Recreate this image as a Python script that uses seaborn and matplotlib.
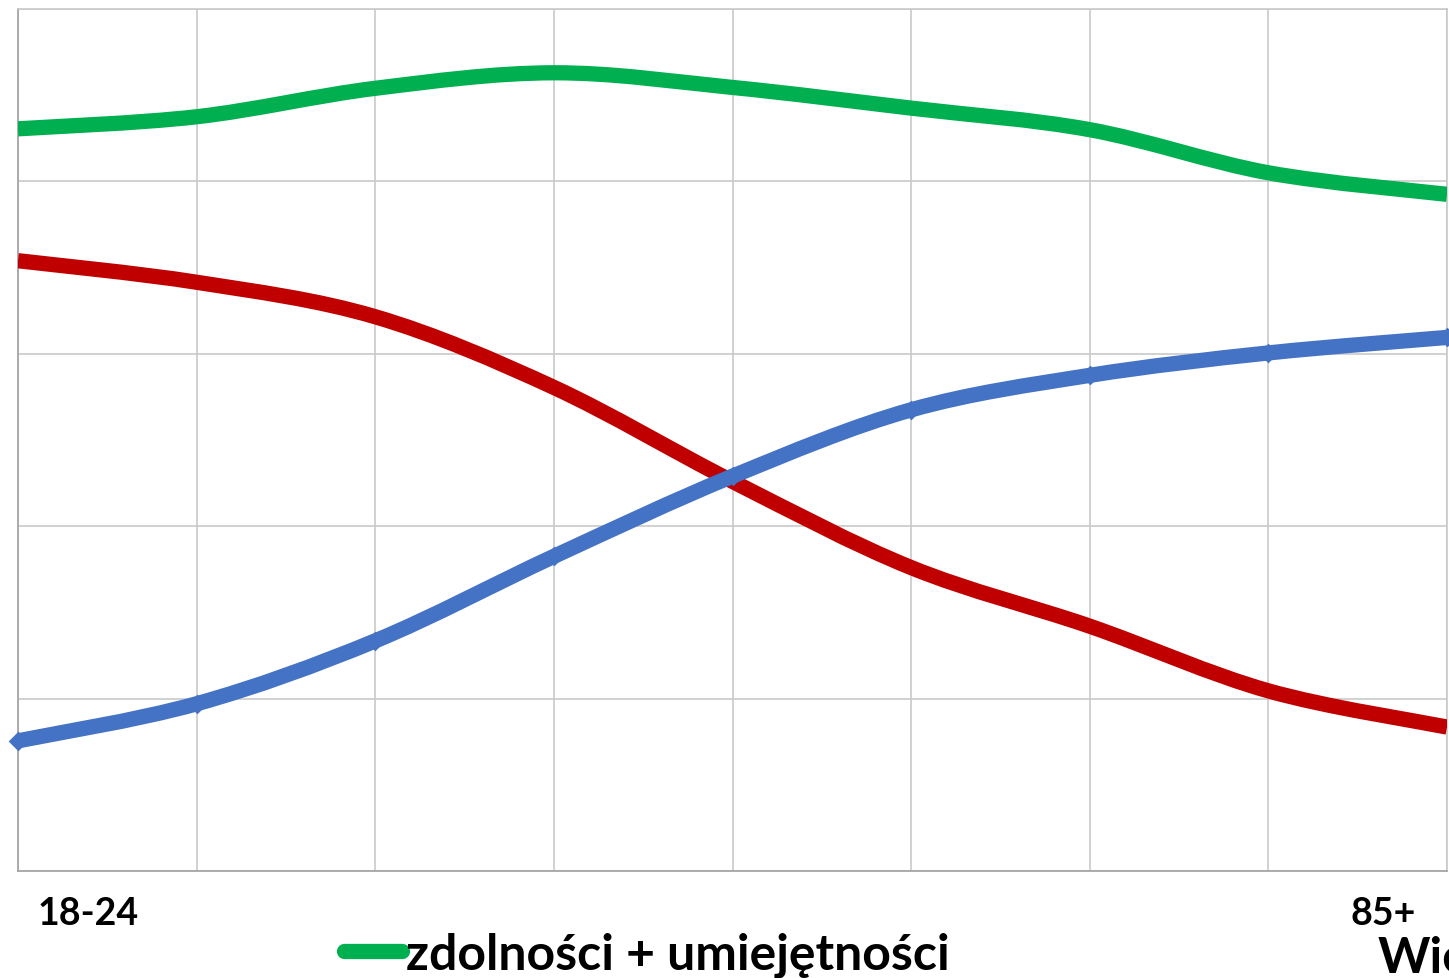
import numpy as np
import pandas as pd
import matplotlib
matplotlib.use("Agg")
import matplotlib.pyplot as plt
import matplotlib.transforms as mtransforms
from matplotlib.lines import Line2D
from matplotlib.patches import PathPatch
from matplotlib.path import Path
import seaborn as sns

# Age groups along the x axis; only the first and the last are labelled
age_pos = [0, 1, 2, 3, 4, 5, 6, 7, 8]
age_labels = ["18-24", "", "", "", "", "", "", "", "85+"]

# Series values (percent)
zdolnosci_umiejetnosci = [86.1, 87.5, 90.8, 92.6, 90.9, 88.5, 86.0, 81.0, 78.5]
zdolnosci = [70.8, 68.3, 64.3, 56.1, 45.2, 35.2, 28.4, 20.9, 16.7]
umiejetnosci = [15.1, 19.4, 26.7, 36.5, 45.8, 53.5, 57.5, 60.1, 61.9]

series_names = ["zdolności + umiejętności", "zdolności", "umiejętności"]
series_colors = ["#00B050", "#C00000", "#4472C4"]

df = pd.DataFrame({
    "wiek": age_pos * 3,
    "wartosc": zdolnosci_umiejetnosci + zdolnosci + umiejetnosci,
    "seria": [n for n in series_names for _ in age_pos],
})

sns.set_style("white")
plt.rcParams["font.family"] = ["Lato", "DejaVu Sans"]
plt.rcParams["text.color"] = "black"
plt.rcParams["xtick.color"] = "black"
plt.rcParams["axes.labelcolor"] = "black"

W, H = 1449, 979
fig = plt.figure(figsize=(W / 100, H / 100), dpi=100)
ax = fig.add_axes([18 / W, (H - 872) / H, (1447 - 18) / W, (872 - 10) / H])

LW = 11
sns.lineplot(data=df, x="wiek", y="wartosc", hue="seria", hue_order=series_names,
             palette=series_colors, estimator=None, sort=False, legend=False,
             linewidth=LW, ax=ax)


def smooth_path(xs, ys):
    """Cubic Bezier through the points (Catmull-Rom style control points)."""
    pts = np.column_stack([xs, ys]).astype(float)
    n = len(pts)
    verts = [pts[0]]
    codes = [Path.MOVETO]
    for i in range(n - 1):
        p0 = pts[max(i - 1, 0)]
        p1 = pts[i]
        p2 = pts[i + 1]
        p3 = pts[min(i + 2, n - 1)]
        verts += [p1 + (p2 - p0) / 6, p2 - (p3 - p1) / 6, p2]
        codes += [Path.CURVE4] * 3
    return Path(verts, codes)


# Replace the straight polylines with smoothed curves through the same points
for k, line in enumerate(list(ax.lines)):
    patch = PathPatch(smooth_path(line.get_xdata(), line.get_ydata()),
                      facecolor="none", edgecolor=line.get_color(),
                      linewidth=LW, capstyle="butt", joinstyle="round",
                      zorder=3 + k)
    ax.add_patch(patch)
    line.remove()

# Diamond markers on the blue series
sns.scatterplot(x=age_pos, y=umiejetnosci, marker="D", s=100, color=series_colors[2],
                linewidth=0, zorder=7, clip_on=False, ax=ax)

ax.set_xlim(0, 8)
ax.set_ylim(0, 100)

grid_c = "#C9C9C9"
axis_c = "#A6A6A6"

# x: labelled ticks only at the ends, gridlines at every age group
ax.set_xticks([0, 8])
ax.set_xticklabels([age_labels[0], age_labels[-1]])
ax.set_xticks(age_pos[1:-1], minor=True)
ax.tick_params(axis="x", which="major", length=8, width=1.2, color=axis_c,
               labelcolor="black", direction="out", pad=10, labelsize=27)
ax.tick_params(axis="x", which="minor", length=0)
for lbl in ax.get_xticklabels():
    lbl.set_fontweight("bold")
xl = ax.get_xticklabels()
xl[0].set_horizontalalignment("left")
xl[0].set_transform(xl[0].get_transform() +
                    mtransforms.ScaledTranslation(0.20, 0, fig.dpi_scale_trans))
xl[1].set_horizontalalignment("right")
xl[1].set_transform(xl[1].get_transform() +
                    mtransforms.ScaledTranslation(-0.31, 0, fig.dpi_scale_trans))

ax.set_yticks(np.arange(0, 101, 20))
ax.set_yticklabels([])
ax.tick_params(axis="y", length=8, width=1.2, color=axis_c, direction="out")

ax.set_axisbelow(True)
ax.grid(True, axis="x", which="both", color=grid_c, linewidth=1.2)
ax.grid(True, axis="y", which="major", color=grid_c, linewidth=1.2)

for side in ["left", "bottom"]:
    ax.spines[side].set_color(axis_c)
    ax.spines[side].set_linewidth(1.3)
for side in ["top", "right"]:
    ax.spines[side].set_color(grid_c)
    ax.spines[side].set_linewidth(1.2)

ax.set_ylabel("")
ax.set_xlabel("Wiek", fontsize=36, fontweight="bold", color="black")
ax.xaxis.set_label_coords((1378 - 18) / (1447 - 18), (872 - 973) / (872 - 10))
ax.xaxis.label.set_horizontalalignment("left")
ax.xaxis.label.set_verticalalignment("baseline")

# Legend below the plot
handle = Line2D([], [], color=series_colors[0], linewidth=LW, solid_capstyle="round")
leg = fig.legend([handle], [series_names[0]], loc="center left",
                 bbox_to_anchor=(344 / W, (H - 955) / H), frameon=False,
                 prop={"size": 36, "weight": "bold"}, handlelength=1.15,
                 handletextpad=0.08, borderpad=0, borderaxespad=0)
for t in leg.get_texts():
    t.set_color("black")

fig.savefig("out.png", dpi=100)
